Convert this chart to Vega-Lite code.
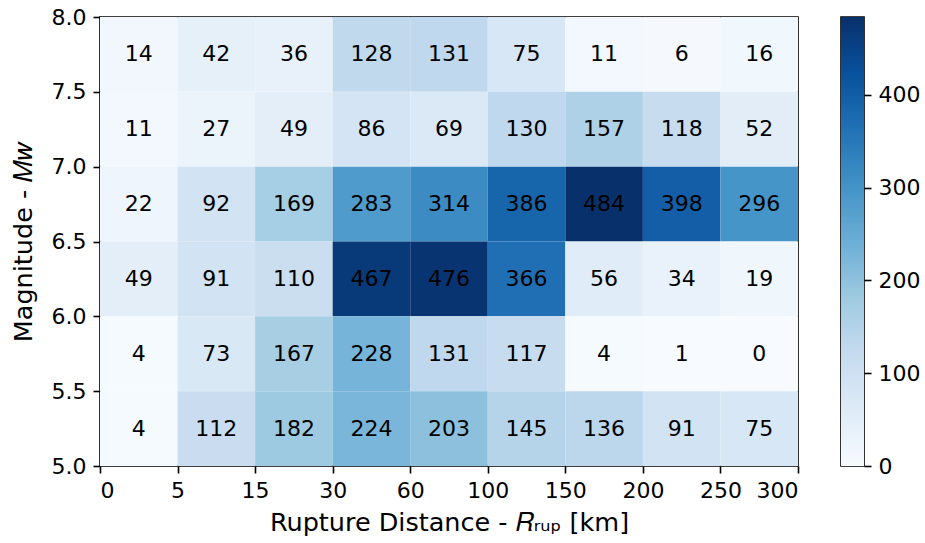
{
  "$schema": "https://vega.github.io/schema/vega-lite/v6.json",
  "padding": {"left": 10, "top": 5, "right": 5, "bottom": 5},
  "bounds": "flush",
  "spacing": 43,
  "config": {
    "font": "DejaVu Sans",
    "view": {"stroke": "black", "strokeWidth": 1.6},
    "axis": {
      "domain": false,
      "grid": false,
      "ticks": true,
      "tickColor": "black",
      "tickWidth": 1.6,
      "tickSize": 7,
      "labelColor": "black",
      "labelFont": "DejaVu Sans",
      "labelFontSize": 22,
      "labelPadding": 7,
      "titleColor": "black",
      "titleFont": "DejaVu Sans",
      "titleFontSize": 25.5,
      "titleFontWeight": "normal"
    }
  },
  "datasets": {
    "counts": [
      {"r0": 0, "r1": 5, "m0": 7.5, "m1": 8.0, "n": 14},
      {"r0": 5, "r1": 15, "m0": 7.5, "m1": 8.0, "n": 42},
      {"r0": 15, "r1": 30, "m0": 7.5, "m1": 8.0, "n": 36},
      {"r0": 30, "r1": 60, "m0": 7.5, "m1": 8.0, "n": 128},
      {"r0": 60, "r1": 100, "m0": 7.5, "m1": 8.0, "n": 131},
      {"r0": 100, "r1": 150, "m0": 7.5, "m1": 8.0, "n": 75},
      {"r0": 150, "r1": 200, "m0": 7.5, "m1": 8.0, "n": 11},
      {"r0": 200, "r1": 250, "m0": 7.5, "m1": 8.0, "n": 6},
      {"r0": 250, "r1": 300, "m0": 7.5, "m1": 8.0, "n": 16},

      {"r0": 0, "r1": 5, "m0": 7.0, "m1": 7.5, "n": 11},
      {"r0": 5, "r1": 15, "m0": 7.0, "m1": 7.5, "n": 27},
      {"r0": 15, "r1": 30, "m0": 7.0, "m1": 7.5, "n": 49},
      {"r0": 30, "r1": 60, "m0": 7.0, "m1": 7.5, "n": 86},
      {"r0": 60, "r1": 100, "m0": 7.0, "m1": 7.5, "n": 69},
      {"r0": 100, "r1": 150, "m0": 7.0, "m1": 7.5, "n": 130},
      {"r0": 150, "r1": 200, "m0": 7.0, "m1": 7.5, "n": 157},
      {"r0": 200, "r1": 250, "m0": 7.0, "m1": 7.5, "n": 118},
      {"r0": 250, "r1": 300, "m0": 7.0, "m1": 7.5, "n": 52},

      {"r0": 0, "r1": 5, "m0": 6.5, "m1": 7.0, "n": 22},
      {"r0": 5, "r1": 15, "m0": 6.5, "m1": 7.0, "n": 92},
      {"r0": 15, "r1": 30, "m0": 6.5, "m1": 7.0, "n": 169},
      {"r0": 30, "r1": 60, "m0": 6.5, "m1": 7.0, "n": 283},
      {"r0": 60, "r1": 100, "m0": 6.5, "m1": 7.0, "n": 314},
      {"r0": 100, "r1": 150, "m0": 6.5, "m1": 7.0, "n": 386},
      {"r0": 150, "r1": 200, "m0": 6.5, "m1": 7.0, "n": 484},
      {"r0": 200, "r1": 250, "m0": 6.5, "m1": 7.0, "n": 398},
      {"r0": 250, "r1": 300, "m0": 6.5, "m1": 7.0, "n": 296},

      {"r0": 0, "r1": 5, "m0": 6.0, "m1": 6.5, "n": 49},
      {"r0": 5, "r1": 15, "m0": 6.0, "m1": 6.5, "n": 91},
      {"r0": 15, "r1": 30, "m0": 6.0, "m1": 6.5, "n": 110},
      {"r0": 30, "r1": 60, "m0": 6.0, "m1": 6.5, "n": 467},
      {"r0": 60, "r1": 100, "m0": 6.0, "m1": 6.5, "n": 476},
      {"r0": 100, "r1": 150, "m0": 6.0, "m1": 6.5, "n": 366},
      {"r0": 150, "r1": 200, "m0": 6.0, "m1": 6.5, "n": 56},
      {"r0": 200, "r1": 250, "m0": 6.0, "m1": 6.5, "n": 34},
      {"r0": 250, "r1": 300, "m0": 6.0, "m1": 6.5, "n": 19},

      {"r0": 0, "r1": 5, "m0": 5.5, "m1": 6.0, "n": 4},
      {"r0": 5, "r1": 15, "m0": 5.5, "m1": 6.0, "n": 73},
      {"r0": 15, "r1": 30, "m0": 5.5, "m1": 6.0, "n": 167},
      {"r0": 30, "r1": 60, "m0": 5.5, "m1": 6.0, "n": 228},
      {"r0": 60, "r1": 100, "m0": 5.5, "m1": 6.0, "n": 131},
      {"r0": 100, "r1": 150, "m0": 5.5, "m1": 6.0, "n": 117},
      {"r0": 150, "r1": 200, "m0": 5.5, "m1": 6.0, "n": 4},
      {"r0": 200, "r1": 250, "m0": 5.5, "m1": 6.0, "n": 1},
      {"r0": 250, "r1": 300, "m0": 5.5, "m1": 6.0, "n": 0},

      {"r0": 0, "r1": 5, "m0": 5.0, "m1": 5.5, "n": 4},
      {"r0": 5, "r1": 15, "m0": 5.0, "m1": 5.5, "n": 112},
      {"r0": 15, "r1": 30, "m0": 5.0, "m1": 5.5, "n": 182},
      {"r0": 30, "r1": 60, "m0": 5.0, "m1": 5.5, "n": 224},
      {"r0": 60, "r1": 100, "m0": 5.0, "m1": 5.5, "n": 203},
      {"r0": 100, "r1": 150, "m0": 5.0, "m1": 5.5, "n": 145},
      {"r0": 150, "r1": 200, "m0": 5.0, "m1": 5.5, "n": 136},
      {"r0": 200, "r1": 250, "m0": 5.0, "m1": 5.5, "n": 91},
      {"r0": 250, "r1": 300, "m0": 5.0, "m1": 5.5, "n": 75}
    ]
  },
  "hconcat": [
    {
      "width": 698,
      "height": 449,
      "data": {"name": "counts"},
      "layer": [
        {
          "mark": {"type": "rect", "strokeWidth": 0},
          "encoding": {
            "x": {
              "field": "r0",
              "type": "quantitative",
              "title": "Rupture Distance - 𝑅ᵣᵤₚ [km]",
              "scale": {
                "domain": [0, 5, 15, 30, 60, 100, 150, 200, 250, 300],
                "range": [0, 77.556, 155.111, 232.667, 310.222, 387.778, 465.333, 542.889, 620.444, 698],
                "nice": false,
                "zero": false
              },
              "axis": {
                "values": [0, 5, 15, 30, 60, 100, 150, 200, 250, 300],
                "format": "d",
                "titlePadding": 9
              }
            },
            "x2": {"field": "r1"},
            "y": {
              "field": "m0",
              "type": "quantitative",
              "title": "Magnitude - 𝑀𝑤",
              "scale": {"domain": [5, 8], "nice": false, "zero": false},
              "axis": {
                "values": [5, 5.5, 6, 6.5, 7, 7.5, 8],
                "format": ".1f",
                "titlePadding": 15
              }
            },
            "y2": {"field": "m1"},
            "color": {
              "field": "n",
              "type": "quantitative",
              "scale": {
                "domain": [0, 484],
                "range": ["#f7fbff", "#deebf7", "#c6dbef", "#9ecae1", "#6baed6", "#4292c6", "#2171b5", "#08519c", "#08306b"],
                "interpolate": "rgb"
              },
              "legend": null
            }
          }
        },
        {
          "transform": [
            {"calculate": "(datum.r0 + datum.r1) / 2", "as": "rc"},
            {"calculate": "(datum.m0 + datum.m1) / 2", "as": "mc"}
          ],
          "mark": {"type": "text", "fontSize": 22, "color": "black", "baseline": "middle", "align": "center"},
          "encoding": {
            "x": {"field": "rc", "type": "quantitative"},
            "y": {"field": "mc", "type": "quantitative"},
            "text": {"field": "n", "type": "quantitative"}
          }
        }
      ]
    },
    {
      "width": 23,
      "height": 449,
      "data": {"values": [{"lo": 0, "hi": 484}]},
      "mark": {
        "type": "rect",
        "strokeWidth": 0,
        "color": {
          "gradient": "linear",
          "x1": 0, "y1": 1, "x2": 0, "y2": 0,
          "stops": [
            {"offset": 0, "color": "#f7fbff"},
            {"offset": 0.125, "color": "#deebf7"},
            {"offset": 0.25, "color": "#c6dbef"},
            {"offset": 0.375, "color": "#9ecae1"},
            {"offset": 0.5, "color": "#6baed6"},
            {"offset": 0.625, "color": "#4292c6"},
            {"offset": 0.75, "color": "#2171b5"},
            {"offset": 0.875, "color": "#08519c"},
            {"offset": 1, "color": "#08306b"}
          ]
        }
      },
      "encoding": {
        "y": {
          "field": "lo",
          "type": "quantitative",
          "title": null,
          "scale": {"domain": [0, 484], "nice": false, "zero": false},
          "axis": {"orient": "right", "values": [0, 100, 200, 300, 400], "format": "d"}
        },
        "y2": {"field": "hi"}
      }
    }
  ]
}
